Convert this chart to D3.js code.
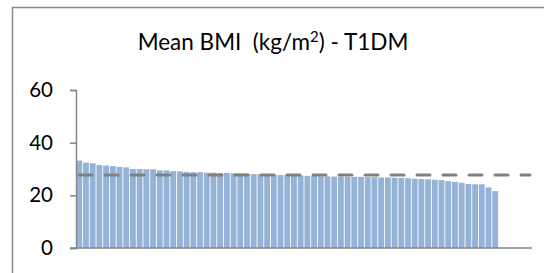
<!DOCTYPE html>
<html>
<head>
<meta charset="utf-8">
<script src="https://d3js.org/d3.v7.min.js"></script>
<style>
  body { margin: 0; background: #fff; }
  text { font-family: Lato, "Open Sans", sans-serif; fill: #000; }
</style>
</head>
<body>
<div id="chart"></div>
<script>
// values (sorted centres, mean BMI)
const bmiValues = [
  33.2, 32.4, 32.2, 31.5, 31.3, 31.1, 30.8, 30.6, 30.0, 30.0,
  29.9, 29.9, 29.5, 29.5, 29.2, 29.1, 28.9, 28.8, 28.8, 28.6,
  28.6, 28.5, 28.5, 28.4, 28.3, 28.2, 28.1, 28.0, 27.9, 27.8,
  27.7, 27.7, 27.6, 27.5, 27.4, 27.3, 27.2, 27.2, 27.1, 27.1,
  27.0, 27.0, 27.0, 26.9, 26.9, 26.8, 26.8, 26.7, 26.6, 26.5,
  26.3, 26.2, 26.1, 25.9, 25.8, 25.4, 25.1, 24.8, 24.3, 24.2,
  24.2, 23.0, 21.6
];
// the axis has a few empty slots at the end
const categories = d3.range(1, 69).map(String);
const meanBMI = 27.7;
const yTicks = [0, 20, 40, 60];
const titleMain = "Mean BMI  (kg/m";
const titleSup = "2";
const titleEnd = ") - T1DM";

const WIDTH = 544, HEIGHT = 273;
const MARGIN = { left: 76, right: 12, top: 90, bottom: 25 };

const svg = d3.select('#chart')
  .append('svg')
  .attr('width', WIDTH)
  .attr('height', HEIGHT);

// chart frame
svg.append('path')
  .attr('d', `M12.5,${HEIGHT} V7.5 H${WIDTH}`)
  .attr('fill', 'none')
  .attr('stroke', '#8c8c8c')
  .attr('stroke-width', 1.5);

const t = svg.append('text')
  .attr('x', 273)
  .attr('y', 50)
  .attr('text-anchor', 'middle')
  .style('font-size', '22.5px')
  .style('white-space', 'pre');
t.append('tspan').text(titleMain);
t.append('tspan').attr('dy', -8).style('font-size', '15px').text(titleSup);
t.append('tspan').attr('dy', 8).text(titleEnd);

const x = d3.scaleBand()
  .domain(categories)
  .range([MARGIN.left, WIDTH - MARGIN.right])
  .paddingInner(0.13)
  .paddingOuter(0.05);

const y = d3.scaleLinear()
  .domain([0, 60])
  .range([HEIGHT - MARGIN.bottom, MARGIN.top]);

// bars
svg.append('g')
  .selectAll('rect')
  .data(bmiValues)
  .join('rect')
  .attr('x', (d, i) => x(categories[i]))
  .attr('y', d => y(d))
  .attr('width', x.bandwidth())
  .attr('height', d => y(0) - y(d))
  .attr('fill', '#95b3d7');

// y axis
const yAxis = svg.append('g')
  .attr('transform', `translate(${MARGIN.left},0)`)
  .call(d3.axisLeft(y).tickValues(yTicks).tickSize(6).tickPadding(17));
yAxis.select('.domain').attr('stroke', '#868686').attr('stroke-width', 1.5);
yAxis.selectAll('.tick line').attr('stroke', '#868686').attr('stroke-width', 1.5);
yAxis.selectAll('.tick text')
  .style('font-size', '20.5px')
  .style('font-family', 'Lato, "Open Sans", sans-serif')
  .attr('fill', '#000');

// x axis baseline
svg.append('line')
  .attr('x1', MARGIN.left - 6)
  .attr('x2', WIDTH - MARGIN.right)
  .attr('y1', y(0))
  .attr('y2', y(0))
  .attr('stroke', '#868686')
  .attr('stroke-width', 1.5);

// mean reference line
svg.append('line')
  .attr('x1', MARGIN.left + 3)
  .attr('x2', WIDTH - 14)
  .attr('y1', y(meanBMI))
  .attr('y2', y(meanBMI))
  .attr('stroke', '#808080')
  .attr('stroke-width', 3)
  .attr('stroke-dasharray', '13,13')
  .attr('stroke-linecap', 'round');
</script>
</body>
</html>
